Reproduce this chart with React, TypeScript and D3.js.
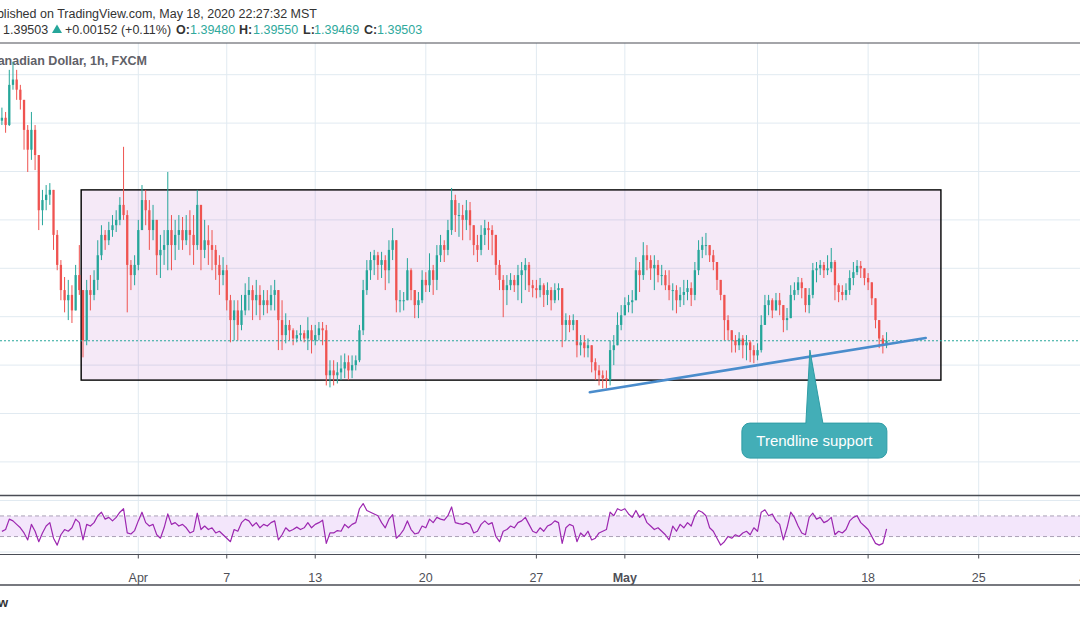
import React from 'react';
import * as d3 from 'd3';

const W = 1080;
const H = 618;

// ---- DATA (USD/CAD, 4-hour aggregation of the 1h chart) ----
const firstCandleHour = -148; // trading hours relative to Apr 1 00:00
const candleHours = 4;
const firstOpen = 1.4405;

const closes = [
  1.4411, 1.4396, 1.4479, 1.4490, 1.4469, 1.4448, 1.4386, 1.4345, 1.4386, 1.4334,
  1.4220, 1.4241, 1.4252, 1.4262, 1.4169, 1.4107, 1.4055, 1.4034, 1.4045, 1.4013,
  1.4086, 1.4055, 1.3951, 1.4055, 1.4045, 1.4076, 1.4127, 1.4169, 1.4158, 1.4179,
  1.4189, 1.4200, 1.4231, 1.4210, 1.4107, 1.4086, 1.4107, 1.4179, 1.4241, 1.4220,
  1.4179, 1.4200, 1.4127, 1.4138, 1.4148, 1.4179, 1.4148, 1.4169, 1.4179, 1.4158,
  1.4179, 1.4169, 1.4148, 1.4231, 1.4138, 1.4158, 1.4148, 1.4138, 1.4107, 1.4086,
  1.4096, 1.4034, 1.3993, 1.4013, 1.3983, 1.4013, 1.4045, 1.4055, 1.4034, 1.4045,
  1.4024, 1.4034, 1.4024, 1.4045, 1.4055, 1.3993, 1.3962, 1.3983, 1.3972, 1.3955,
  1.3962, 1.3966, 1.3955, 1.3972, 1.3951, 1.3962, 1.3976, 1.3972, 1.3879, 1.3889,
  1.3879, 1.3885, 1.3893, 1.3906, 1.3889, 1.3900, 1.3910, 1.3972, 1.4055, 1.4096,
  1.4117, 1.4127, 1.4107, 1.4117, 1.4096, 1.4138, 1.4158, 1.4034, 1.4034, 1.4034,
  1.4096, 1.4055, 1.4024, 1.4034, 1.4076, 1.4065, 1.4096, 1.4076, 1.4127, 1.4148,
  1.4138, 1.4179, 1.4241, 1.4210, 1.4210, 1.4200, 1.4220, 1.4189, 1.4148, 1.4138,
  1.4169, 1.4183, 1.4179, 1.4169, 1.4107, 1.4076, 1.4055, 1.4065, 1.4076, 1.4065,
  1.4086, 1.4096, 1.4107, 1.4065, 1.4059, 1.4055, 1.4065, 1.4045, 1.4055, 1.4034,
  1.4055, 1.4059, 1.3983, 1.3993, 1.3983, 1.3993, 1.3941, 1.3947, 1.3935, 1.3941,
  1.3906, 1.3889, 1.3879, 1.3873, 1.3869, 1.3931, 1.3941, 1.3983, 1.4003, 1.4024,
  1.4030, 1.4034, 1.4096, 1.4086, 1.4127, 1.4117, 1.4100, 1.4107, 1.4086, 1.4086,
  1.4065, 1.4055, 1.4055, 1.4034, 1.4045, 1.4051, 1.4059, 1.4045, 1.4096, 1.4138,
  1.4148, 1.4148, 1.4127, 1.4113, 1.4076, 1.4045, 1.3993, 1.3972, 1.3951, 1.3941,
  1.3955, 1.3941, 1.3947, 1.3931, 1.3920, 1.3931, 1.3983, 1.4024, 1.4034, 1.4013,
  1.4034, 1.4024, 1.3993, 1.3997, 1.4045, 1.4055, 1.4071, 1.4059, 1.4024, 1.4045,
  1.4096, 1.4100, 1.4107, 1.4096, 1.4100, 1.4113, 1.4065, 1.4051, 1.4045, 1.4055,
  1.4080, 1.4092, 1.4105, 1.4100, 1.4080, 1.4071, 1.4038, 1.3993, 1.3955, 1.3941, 1.3950,
];

const highs = [
  1.4432, 1.4423, 1.4510, 1.4527, 1.4510, 1.4479, 1.4448, 1.4396, 1.4423, 1.4396,
  1.4324, 1.4262, 1.4272, 1.4276, 1.4262, 1.4179, 1.4117, 1.4082, 1.4076, 1.4065,
  1.4107, 1.4148, 1.4055, 1.4076, 1.4086, 1.4096, 1.4158, 1.4189, 1.4179, 1.4196,
  1.4210, 1.4220, 1.4247, 1.4351, 1.4220, 1.4117, 1.4127, 1.4200, 1.4272, 1.4262,
  1.4241, 1.4231, 1.4189, 1.4169, 1.4179, 1.4299, 1.4210, 1.4200, 1.4210, 1.4206,
  1.4210, 1.4220, 1.4210, 1.4262, 1.4231, 1.4200, 1.4189, 1.4179, 1.4148, 1.4127,
  1.4123, 1.4107, 1.4045, 1.4034, 1.4034, 1.4045, 1.4069, 1.4082, 1.4065, 1.4076,
  1.4065, 1.4055, 1.4055, 1.4065, 1.4076, 1.4055, 1.4034, 1.4007, 1.3993, 1.3976,
  1.3972, 1.3983, 1.3972, 1.3999, 1.3983, 1.3983, 1.3989, 1.3989, 1.3983, 1.3910,
  1.3910, 1.3906, 1.3920, 1.3924, 1.3920, 1.3920, 1.3920, 1.3983, 1.4076, 1.4117,
  1.4134, 1.4138, 1.4134, 1.4134, 1.4127, 1.4158, 1.4183, 1.4148, 1.4055, 1.4051,
  1.4121, 1.4100, 1.4055, 1.4051, 1.4096, 1.4092, 1.4131, 1.4107, 1.4148, 1.4169,
  1.4158, 1.4200, 1.4266, 1.4252, 1.4235, 1.4231, 1.4241, 1.4237, 1.4183, 1.4169,
  1.4189, 1.4200, 1.4196, 1.4189, 1.4158, 1.4117, 1.4086, 1.4086, 1.4090, 1.4086,
  1.4107, 1.4113, 1.4121, 1.4113, 1.4076, 1.4076, 1.4080, 1.4069, 1.4071, 1.4061,
  1.4069, 1.4069, 1.4055, 1.4007, 1.4003, 1.4005, 1.3972, 1.3962, 1.3962, 1.3955,
  1.3931, 1.3914, 1.3900, 1.3889, 1.3889, 1.3951, 1.3962, 1.4009, 1.4024, 1.4040,
  1.4045, 1.4055, 1.4123, 1.4113, 1.4154, 1.4148, 1.4127, 1.4127, 1.4117, 1.4107,
  1.4096, 1.4096, 1.4069, 1.4065, 1.4061, 1.4076, 1.4076, 1.4071, 1.4113, 1.4158,
  1.4165, 1.4173, 1.4148, 1.4138, 1.4107, 1.4076, 1.4034, 1.4003, 1.3972, 1.3962,
  1.3968, 1.3962, 1.3962, 1.3951, 1.3941, 1.3945, 1.4003, 1.4045, 1.4045, 1.4038,
  1.4049, 1.4049, 1.4018, 1.4018, 1.4065, 1.4071, 1.4082, 1.4080, 1.4055, 1.4059,
  1.4111, 1.4113, 1.4117, 1.4113, 1.4127, 1.4142, 1.4117, 1.4069, 1.4065, 1.4069,
  1.4096, 1.4113, 1.4117, 1.4115, 1.4096, 1.4090, 1.4071, 1.4034, 1.3993, 1.3962, 1.3968,
];

const lows = [
  1.4396, 1.4380, 1.4394, 1.4469, 1.4448, 1.4428, 1.4345, 1.4299, 1.4324, 1.4303,
  1.4179, 1.4189, 1.4220, 1.4231, 1.4138, 1.4096, 1.4034, 1.4009, 1.3993, 1.3987,
  1.4034, 1.4045, 1.3916, 1.3941, 1.4013, 1.4034, 1.4055, 1.4117, 1.4138, 1.4148,
  1.4165, 1.4175, 1.4189, 1.4200, 1.4009, 1.4055, 1.4065, 1.4096, 1.4189, 1.4189,
  1.4138, 1.4158, 1.4086, 1.4080, 1.4107, 1.4096, 1.4096, 1.4117, 1.4138, 1.4138,
  1.4148, 1.4127, 1.4107, 1.4138, 1.4096, 1.4121, 1.4107, 1.4096, 1.4076, 1.4045,
  1.4065, 1.4013, 1.3947, 1.3951, 1.3951, 1.3972, 1.4003, 1.4013, 1.3993, 1.4003,
  1.3993, 1.4003, 1.4007, 1.4013, 1.4013, 1.3931, 1.3931, 1.3945, 1.3951, 1.3941,
  1.3947, 1.3951, 1.3947, 1.3931, 1.3924, 1.3941, 1.3951, 1.3941, 1.3858, 1.3854,
  1.3858, 1.3862, 1.3869, 1.3873, 1.3869, 1.3873, 1.3889, 1.3906, 1.3962, 1.4045,
  1.4076, 1.4086, 1.4076, 1.4080, 1.4055, 1.4069, 1.4117, 1.4009, 1.4009, 1.4013,
  1.4034, 1.4034, 1.3997, 1.3997, 1.4028, 1.4051, 1.4051, 1.4045, 1.4055, 1.4113,
  1.4113, 1.4127, 1.4169, 1.4175, 1.4165, 1.4158, 1.4179, 1.4158, 1.4127, 1.4113,
  1.4127, 1.4148, 1.4138, 1.4127, 1.4086, 1.4055, 1.3999, 1.4024, 1.4055, 1.4051,
  1.4034, 1.4028, 1.4055, 1.4051, 1.4040, 1.4038, 1.4040, 1.4020, 1.4024, 1.4013,
  1.4028, 1.4034, 1.3937, 1.3951, 1.3968, 1.3972, 1.3916, 1.3920, 1.3916, 1.3916,
  1.3885, 1.3869, 1.3858, 1.3852, 1.3852, 1.3858, 1.3900, 1.3941, 1.3972, 1.4003,
  1.4009, 1.4007, 1.4034, 1.4051, 1.4076, 1.4096, 1.4076, 1.4055, 1.4071, 1.4065,
  1.4055, 1.4034, 1.4013, 1.4007, 1.4020, 1.4024, 1.4034, 1.4022, 1.4034, 1.4086,
  1.4121, 1.4127, 1.4113, 1.4096, 1.4055, 1.4034, 1.3951, 1.3951, 1.3926, 1.3926,
  1.3931, 1.3914, 1.3910, 1.3906, 1.3904, 1.3910, 1.3926, 1.3983, 1.4003, 1.3997,
  1.4013, 1.4003, 1.3968, 1.3972, 1.3997, 1.4034, 1.4045, 1.4038, 1.4009, 1.4007,
  1.4038, 1.4071, 1.4086, 1.4080, 1.4086, 1.4092, 1.4034, 1.4030, 1.4034, 1.4034,
  1.4045, 1.4065, 1.4086, 1.4080, 1.4065, 1.4055, 1.4024, 1.3976, 1.3935, 1.3924, 1.3935,
];

const rsiValues = [
  40, 43.6, 63.8, 60.4, 53.7, 47, 37, 23.4, 53.7, 40.3,
  20, 37, 50.4, 57, 26.8, 13.4, 33.5, 43.6, 40.3, 47,
  63.8, 57, 23.4, 53.7, 50.4, 57, 70.5, 77.3, 63.8, 67.2,
  60.4, 67.2, 77.3, 84, 37, 35, 41.6, 60.4, 77.3, 57,
  50.4, 53.7, 33.5, 26.8, 47, 73.9, 53.7, 57, 50.4, 53.7,
  47, 37, 40.3, 75.3, 43.6, 50.4, 43.6, 47, 37, 40.3,
  33.5, 26.8, 20, 43.6, 40.3, 57, 63.8, 60.4, 50.4, 57,
  47, 53.7, 50.4, 57, 60.4, 23.4, 33.5, 47, 40.3, 43.6,
  48.3, 43.6, 47, 57, 47, 53.7, 57, 61.8, 16.7, 37,
  37, 41.6, 40.3, 53.7, 47, 53.7, 57, 84, 94, 80.6,
  77.3, 73.9, 70.5, 57, 47, 63.8, 72.6, 26.8, 33.5, 43.6,
  60.4, 43.6, 35, 37, 50.4, 47, 63.8, 57, 67.2, 63.8,
  61.8, 70.5, 87.4, 57, 55, 53.7, 57, 53.7, 37, 40.3,
  53.7, 60.4, 53.7, 57, 30.2, 20, 40.3, 43.6, 50.4, 47,
  57, 60.4, 67.2, 53.7, 40.3, 37, 47, 40.3, 50.4, 53.7,
  60.4, 57, 16.7, 47, 53.7, 50.4, 20, 37, 30.2, 40.3,
  23.4, 26.8, 37, 40.3, 43.6, 77.3, 70.5, 84, 80.6, 84,
  73.9, 67.2, 80.6, 67.2, 73.9, 57, 50.4, 43.6, 47, 40.3,
  33.5, 23.4, 50.4, 40.3, 53.7, 47, 57, 50.4, 70.5, 80.6,
  77.3, 70.5, 47, 40.3, 26.8, 13.4, 20, 30.2, 26.8, 33.5,
  30.2, 37, 40.3, 33.5, 47, 40.3, 77.3, 82, 70.5, 73.9,
  60.4, 53.7, 23.4, 47, 77.3, 67.2, 50.4, 37, 33.5, 67.2,
  75.3, 63.8, 67.2, 57, 60.4, 67.2, 33.5, 40.3, 37, 43.6,
  60.4, 67.2, 70.5, 57, 50.4, 43.6, 30.2, 16.7, 13.4, 16.7, 45,
];

// trading-day index (from Apr 1) of each date label on the time axis
const dayLabels = ['Apr', '7', '13', '20', '27', 'May', '11', '18', '25', 'Jun'];
const dayIndex = [0, 4, 8, 13, 18, 22, 28, 33, 38, 43];
const boldLabels = ['May'];

const priceGrid = [1.37, 1.38, 1.39, 1.40, 1.41, 1.42, 1.43, 1.44, 1.45];
const lastPrice = 1.39503;

const rangeBox = { t0: -62, t1: 871, top: 1.4262, bottom: 1.3869 };
const trendline = { t0: 490, p0: 1.3844, t1: 854.5, p1: 1.3956 };
const callout = { t: 728.8, p: 1.3931, text: 'Trendline support' };
const rsiBand = [70, 30];
const rsiGrid = [100, 0];

const headerLine1 = 'Published on TradingView.com, May 18, 2020 22:27:32 MST';
const chartTitle = 'U.S. Dollar / Canadian Dollar, 1h, FXCM';
const quoteParts = [
  { text: '1.39503', x: 3, kind: 'plain' },
  { text: '+0.00152 (+0.11%)', x: 65, kind: 'plain' },
  { text: 'O:', x: 176, kind: 'label' },
  { text: '1.39480', x: 190, kind: 'value' },
  { text: 'H:', x: 239, kind: 'label' },
  { text: '1.39550', x: 253, kind: 'value' },
  { text: 'L:', x: 303, kind: 'label' },
  { text: '1.39469', x: 314, kind: 'value' },
  { text: 'C:', x: 364, kind: 'label' },
  { text: '1.39503', x: 377, kind: 'value' },
];

// ---- STYLE ----
const UP = '#26a69a';
const DOWN = '#ef5350';
const GRID = '#e1eaf1';
const DARK = '#4a4d55';
const TEXT = '#333333';
const TEAL_TEXT = '#2fa99c';
const FONT = '"Liberation Sans", Arial, sans-serif';

export default function App() {
  const x = d3.scaleLinear().domain([0, 912]).range([138.3, 978.7]);
  const y = d3.scaleLinear().domain([1.37, 1.45]).range([461.9, 74.7]);
  const rsiY = d3.scaleLinear().domain([0, 100]).range([552, 500.5]);

  const mainTop = 43;
  const mainBottom = 495.5;
  const rsiBottom = 554.5;
  const axisBottom = 585;

  const candles = closes.map((c, i) => {
    const o = i === 0 ? firstOpen : closes[i - 1];
    return {
      t: firstCandleHour + i * candleHours,
      o,
      c,
      h: Math.max(highs[i], o, c),
      l: Math.min(lows[i], o, c),
    };
  });
  const step = x(candleHours) - x(0);
  const bodyW = step * 0.62;

  const rsiLine = d3
    .line<number>()
    .x((_, i) => x(firstCandleHour + i * candleHours))
    .y((v) => rsiY(v))
    .curve(d3.curveLinear)(rsiValues) as string;

  // callout shape
  const ax = x(callout.t);
  const ay = y(callout.p);
  const bx0 = ax - 68;
  const bx1 = ax + 77;
  const by0 = ay + 73;
  const by1 = ay + 108;
  const r = 8;
  const calloutPath = [
    `M ${bx0 + r} ${by0}`,
    `L ${ax - 4} ${by0}`,
    `L ${ax} ${ay}`,
    `L ${ax + 13} ${by0}`,
    `L ${bx1 - r} ${by0}`,
    `A ${r} ${r} 0 0 1 ${bx1} ${by0 + r}`,
    `L ${bx1} ${by1 - r}`,
    `A ${r} ${r} 0 0 1 ${bx1 - r} ${by1}`,
    `L ${bx0 + r} ${by1}`,
    `A ${r} ${r} 0 0 1 ${bx0} ${by1 - r}`,
    `L ${bx0} ${by0 + r}`,
    `A ${r} ${r} 0 0 1 ${bx0 + r} ${by0}`,
    'Z',
  ].join(' ');

  return (
    <svg
      width={W}
      height={H}
      viewBox={`0 0 ${W} ${H}`}
      style={{ position: 'absolute', left: 0, top: 0, display: 'block', background: '#fff' }}
      fontFamily={FONT}
    >
      <defs>
        <clipPath id="mainClip">
          <rect x={0} y={mainTop} width={W} height={mainBottom - mainTop} />
        </clipPath>
        <clipPath id="rsiClip">
          <rect x={0} y={mainBottom} width={W} height={rsiBottom - mainBottom} />
        </clipPath>
      </defs>
      <rect x={0} y={0} width={W} height={H} fill="#fff" />

      {/* header */}
      <text x={317} y={17.5} fontSize={12.5} fill={TEXT} textAnchor="end">
        {headerLine1}
      </text>
      <g fontSize={12.5}>
        {quoteParts.map((q, i) => (
          <text
            key={i}
            x={q.x}
            y={33.5}
            fill={q.kind === 'value' ? TEAL_TEXT : TEXT}
            fontWeight={q.kind === 'label' ? 700 : 400}
          >
            {q.text}
          </text>
        ))}
        <path d="M 52 33 L 62 33 L 57 24.5 Z" fill={UP} />
      </g>

      {/* grid */}
      <g>
        {dayIndex.map((d, i) => (
          <line key={i} x1={x(d * 24)} x2={x(d * 24)} y1={mainTop} y2={rsiBottom} stroke={GRID} strokeWidth={1} />
        ))}
        {priceGrid.map((p, i) => (
          <line key={i} x1={0} x2={W} y1={y(p)} y2={y(p)} stroke={GRID} strokeWidth={1} />
        ))}
        {rsiGrid.map((v, i) => (
          <line key={i} x1={0} x2={W} y1={rsiY(v)} y2={rsiY(v)} stroke={GRID} strokeWidth={1} />
        ))}
      </g>

      {/* chart title */}
      <text x={147} y={64.5} fontSize={12.5} fontWeight={700} fill="#5f6168" textAnchor="end">
        {chartTitle}
      </text>

      <g clipPath="url(#mainClip)">
        {/* range rectangle */}
        <rect
          x={x(rangeBox.t0)}
          y={y(rangeBox.top)}
          width={x(rangeBox.t1) - x(rangeBox.t0)}
          height={y(rangeBox.bottom) - y(rangeBox.top)}
          fill="rgba(156,39,176,0.1)"
          stroke="#000"
          strokeWidth={1.4}
        />

        {/* candles */}
        {candles.map((d, i) => {
          const cx = x(d.t);
          const col = d.c >= d.o ? UP : DOWN;
          const yT = y(Math.max(d.o, d.c));
          const yB = y(Math.min(d.o, d.c));
          return (
            <g key={i}>
              <line x1={cx} x2={cx} y1={y(d.h)} y2={y(d.l)} stroke={col} strokeWidth={1} />
              <rect x={cx - bodyW / 2} y={yT} width={bodyW} height={Math.max(1, yB - yT)} fill={col} />
            </g>
          );
        })}

        {/* last price line */}
        <line
          x1={0}
          x2={W}
          y1={y(lastPrice)}
          y2={y(lastPrice)}
          stroke={UP}
          strokeWidth={1}
          strokeDasharray="2,2"
        />

        {/* trendline */}
        <line
          x1={x(trendline.t0)}
          y1={y(trendline.p0)}
          x2={x(trendline.t1)}
          y2={y(trendline.p1)}
          stroke="#4a8ccc"
          strokeWidth={2.6}
          strokeLinecap="round"
        />

        {/* callout */}
        <path d={calloutPath} fill="#43aeb7" stroke="#2f9ca5" strokeWidth={1} />
        <text x={(bx0 + bx1) / 2} y={by0 + 23} fontSize={15} fill="#ffffff" textAnchor="middle">
          {callout.text}
        </text>
      </g>

      {/* RSI pane */}
      <g clipPath="url(#rsiClip)">
        <rect x={0} y={rsiY(rsiBand[0])} width={W} height={rsiY(rsiBand[1]) - rsiY(rsiBand[0])} fill="#f3e6fb" />
        {rsiBand.map((v, i) => (
          <line key={i} x1={0} x2={W} y1={rsiY(v)} y2={rsiY(v)} stroke="#aaa0b6" strokeWidth={1} strokeDasharray="4,3" />
        ))}
        <path d={rsiLine} fill="none" stroke="#9c27b0" strokeWidth={1.2} strokeLinejoin="round" />
      </g>

      {/* pane separators and axis */}
      <line x1={0} x2={W} y1={mainTop} y2={mainTop} stroke={DARK} strokeWidth={1.2} />
      <line x1={0} x2={W} y1={mainBottom} y2={mainBottom} stroke={DARK} strokeWidth={1.4} />
      <line x1={0} x2={W} y1={rsiBottom} y2={rsiBottom} stroke={DARK} strokeWidth={1.1} />
      <line x1={0} x2={W} y1={axisBottom} y2={axisBottom} stroke={DARK} strokeWidth={1.4} />
      {dayIndex.map((d, i) => (
        <g key={i}>
          <line x1={x(d * 24)} x2={x(d * 24)} y1={rsiBottom} y2={rsiBottom + 4} stroke={DARK} strokeWidth={1} />
          <text
            x={x(d * 24)}
            y={582}
            fontSize={12.5}
            fill="#4e5058"
            textAnchor="middle"
            fontWeight={boldLabels.includes(dayLabels[i]) ? 700 : 400}
          >
            {dayLabels[i]}
          </text>
        </g>
      ))}

      {/* footer brand */}
      <text x={8} y={607} fontSize={13} fontWeight={700} fill={TEXT} textAnchor="end">
        TradingView
      </text>
    </svg>
  );
}
